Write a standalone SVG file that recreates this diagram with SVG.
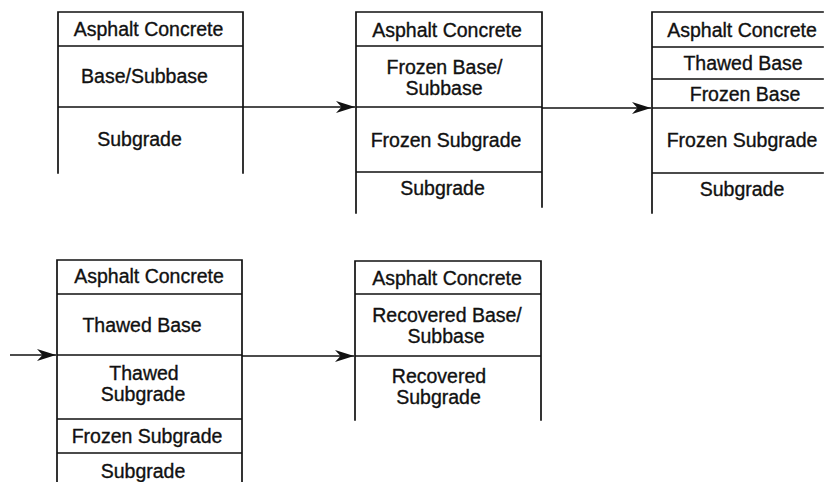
<svg xmlns="http://www.w3.org/2000/svg" width="827" height="482" viewBox="0 0 827 482">
  <style>
    .edge { stroke: #111; stroke-width: 1.7; fill: none; stroke-linecap: square; }
    .lbl { font-family: "Liberation Sans", Arial, sans-serif; font-size: 19.5px; fill: #111; stroke: #111; stroke-width: 0.35; text-anchor: middle; }
    .conn { stroke: #111; stroke-width: 1.7; fill: none; }
  </style>
  <defs>
    <marker id="arrowhead" markerUnits="userSpaceOnUse" viewBox="-19 -6 19 12" markerWidth="19" markerHeight="12" refX="0" refY="0" orient="auto">
      <path d="M0,0 L-19,-6 L-13.5,0 L-19,6 Z" fill="#111"/>
    </marker>
  </defs>
  <rect width="827" height="482" fill="#fff"/>

  <!-- Stage 1: initial pavement section -->
  <g id="stage-1">
    <path class="edge" d="M58,12 H243 M58,12 V173 M243,12 V173 M58,46 H243 M58,107 H243"/>
    <text class="lbl" x="148.5" y="36">Asphalt Concrete</text>
    <text class="lbl" x="144.5" y="83">Base/Subbase</text>
    <text class="lbl" x="139.5" y="146">Subgrade</text>
  </g>

  <!-- Stage 2: frost penetration -->
  <g id="stage-2">
    <path class="edge" d="M356,12 H542 M356,12 V213 M542,12 V207 M356,46 H542 M356,107 H542 M356,172 H542"/>
    <text class="lbl" x="447" y="37">Asphalt Concrete</text>
    <text class="lbl" x="444.5" y="74">Frozen Base/</text>
    <text class="lbl" x="444" y="95">Subbase</text>
    <text class="lbl" x="446" y="147">Frozen Subgrade</text>
    <text class="lbl" x="442.5" y="195">Subgrade</text>
  </g>

  <!-- Stage 3: thaw from the surface -->
  <g id="stage-3">
    <path class="edge" d="M652,12 H823 M652,12 V213 M652,47 H823 M652,79 H823 M652,108 H823 M652,173 H823"/>
    <text class="lbl" x="742" y="37">Asphalt Concrete</text>
    <text class="lbl" x="743" y="70">Thawed Base</text>
    <text class="lbl" x="745" y="101">Frozen Base</text>
    <text class="lbl" x="742" y="147">Frozen Subgrade</text>
    <text class="lbl" x="742" y="196">Subgrade</text>
  </g>

  <!-- Stage 4: thawed subgrade over frozen layer -->
  <g id="stage-4">
    <path class="edge" d="M57,260 H242 M57,260 V482 M242,260 V482 M57,294 H242 M57,355 H242 M57,419 H242 M57,453 H242"/>
    <text class="lbl" x="149" y="283">Asphalt Concrete</text>
    <text class="lbl" x="142" y="332">Thawed Base</text>
    <text class="lbl" x="144" y="379.5">Thawed</text>
    <text class="lbl" x="143" y="400.5">Subgrade</text>
    <text class="lbl" x="147" y="443">Frozen Subgrade</text>
    <text class="lbl" x="143" y="478">Subgrade</text>
  </g>

  <!-- Stage 5: recovery -->
  <g id="stage-5">
    <path class="edge" d="M355,261 H541 M355,261 V420 M541,261 V420 M355,294 H541 M355,356 H541"/>
    <text class="lbl" x="447" y="285">Asphalt Concrete</text>
    <text class="lbl" x="447" y="321.5">Recovered Base/</text>
    <text class="lbl" x="446" y="342.5">Subbase</text>
    <text class="lbl" x="439" y="382.5">Recovered</text>
    <text class="lbl" x="438.5" y="403.5">Subgrade</text>
  </g>

  <!-- Connectors between stages -->
  <g id="connectors">
    <path class="conn" d="M243,107 H355" marker-end="url(#arrowhead)"/>
    <path class="conn" d="M542,108 H651" marker-end="url(#arrowhead)"/>
    <path class="conn" d="M10,355 H56" marker-end="url(#arrowhead)"/>
    <path class="conn" d="M242,356 H354" marker-end="url(#arrowhead)"/>
  </g>
</svg>
